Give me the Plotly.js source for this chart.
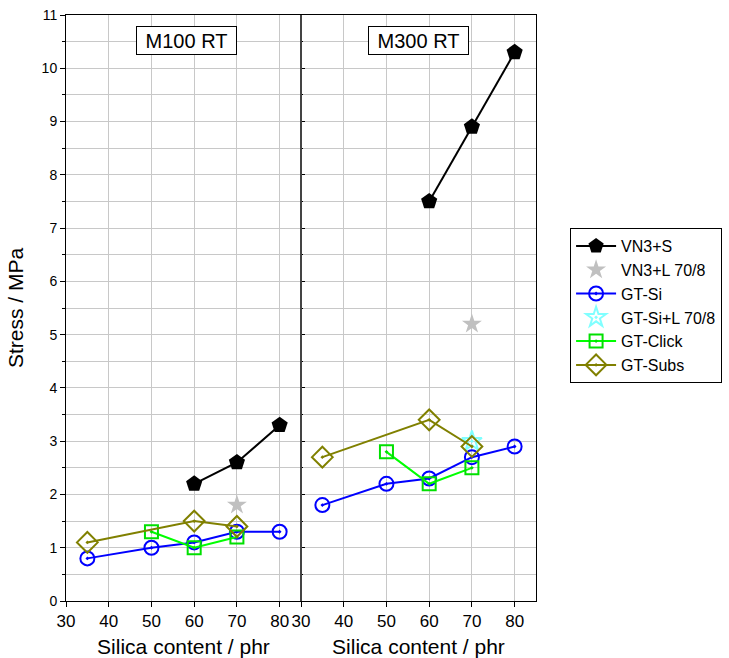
<!DOCTYPE html>
<html>
<head>
<meta charset="utf-8">
<script src="https://cdn.plot.ly/plotly-3.0.1.min.js"></script>
<style>html,body{margin:0;padding:0;background:#fff}#chart{width:729px;height:658px}</style>
</head>
<body>
<div id="chart"></div>
<script>
// M100 RT (left panel)
const vn3sX_100 = [60, 70, 80];
const vn3sY_100 = [2.2, 2.6, 3.3];
const vn3lX_100 = [70];
const vn3lY_100 = [1.8];
const gtSiX_100 = [35, 50, 60, 70, 80];
const gtSiY_100 = [0.8, 1.0, 1.1, 1.3, 1.3];
const gtClickX_100 = [50, 60, 70];
const gtClickY_100 = [1.3, 1.0, 1.2];
const gtSubsX_100 = [35, 60, 70];
const gtSubsY_100 = [1.1, 1.5, 1.4];
// M300 RT (right panel)
const vn3sX_300 = [60, 70, 80];
const vn3sY_300 = [7.5, 8.9, 10.3];
const vn3lX_300 = [70];
const vn3lY_300 = [5.2];
const gtSiX_300 = [35, 50, 60, 70, 80];
const gtSiY_300 = [1.8, 2.2, 2.3, 2.7, 2.9];
const gtSiLX_300 = [70];
const gtSiLY_300 = [3.0];
const gtClickX_300 = [50, 60, 70];
const gtClickY_300 = [2.8, 2.2, 2.5];
const gtSubsX_300 = [35, 60, 70];
const gtSubsY_300 = [2.7, 3.4, 2.9];
const panelTitles = ['M100 RT', 'M300 RT'];

const sty = {
  vn3s: {name:'VN3+S', mode:'lines+markers', line:{color:'#000', width:2}, marker:{symbol:'pentagon', size:17, color:'#000'}},
  vn3l: {name:'VN3+L 70/8', mode:'markers', marker:{symbol:'star', size:15, color:'#c0c0c0'}},
  gtSi: {name:'GT-Si', mode:'lines+markers', line:{color:'#0000ff', width:2}, marker:{symbol:'circle-open-dot', size:14, color:'#0000ff', line:{width:2}}},
  gtSiL:{name:'GT-Si+L 70/8', mode:'markers', marker:{symbol:'star-open-dot', size:15, color:'#80ffff', line:{width:2}}},
  gtClick:{name:'GT-Click', mode:'lines+markers', line:{color:'#00ff00', width:2}, marker:{symbol:'square-open-dot', size:13, color:'#00e000', line:{width:2}}},
  gtSubs:{name:'GT-Subs', mode:'lines+markers', line:{color:'#808000', width:2}, marker:{symbol:'diamond-open-dot', size:16, color:'#808000', line:{width:2}}}
};
function tr(key, x, y, ax, show) {
  const s = JSON.parse(JSON.stringify(sty[key]));
  return Object.assign(s, {x:x, y:y, xaxis:ax[0], yaxis:ax[1], legendgroup:key, showlegend:show});
}
const L = ['x','y'], R = ['x2','y2'];
const data = [
  tr('vn3s', vn3sX_100, vn3sY_100, L, true),
  tr('vn3s', vn3sX_300, vn3sY_300, R, false),
  tr('vn3l', vn3lX_100, vn3lY_100, L, true),
  tr('vn3l', vn3lX_300, vn3lY_300, R, false),
  tr('gtSi', gtSiX_100, gtSiY_100, L, true),
  tr('gtSi', gtSiX_300, gtSiY_300, R, false),
  tr('gtSiL', gtSiLX_300, gtSiLY_300, R, true),
  tr('gtClick', gtClickX_100, gtClickY_100, L, true),
  tr('gtClick', gtClickX_300, gtClickY_300, R, false),
  tr('gtSubs', gtSubsX_100, gtSubsY_100, L, true),
  tr('gtSubs', gtSubsX_300, gtSubsY_300, R, false)
];
const order = ['vn3s','vn3l','gtSi','gtSiL','gtClick','gtSubs'];
data.forEach(d => { d.legendrank = order.indexOf(d.legendgroup) + 1; });

const grid = '#c8c8c8';
const font = {family:'Liberation Sans, Arial, sans-serif', size:14, color:'#000'};
function xax(domain, anchor) {
  return {domain:domain, anchor:anchor, range:[30,85], tick0:30, dtick:10, showgrid:true, gridcolor:grid, gridwidth:1,
    zeroline:false, showline:true, linecolor:'#000', linewidth:1, mirror:true, ticks:'outside', ticklen:5, tickcolor:'#000',
    tickfont:{size:17}, title:{text:'Silica content / phr', font:{size:21}, standoff:12}};
}
const layout = {
  width:729, height:658, font:font, paper_bgcolor:'#fff', plot_bgcolor:'#fff',
  margin:{l:66, r:193, t:15, b:57, autoexpand:false},
  showlegend:true,
  legend:{x:1.0725, xanchor:'left', y:0.6365, yanchor:'top', bordercolor:'#000', borderwidth:1, font:{size:16},
    bgcolor:'#fff', tracegroupgap:0, itemwidth:40},
  xaxis: xax([0,0.5],'y'),
  xaxis2: xax([0.5,1],'y2'),
  yaxis:{range:[0,11], dtick:1, showgrid:true, gridcolor:grid, zeroline:false, showline:true, linecolor:'#000', linewidth:1,
    mirror:true, ticks:'outside', ticklen:5, tickcolor:'#000', tickfont:{size:14},
    minor:{dtick:0.5, showgrid:true, gridcolor:grid, ticks:'outside', ticklen:3, tickcolor:'#000'},
    title:{text:'Stress / MPa', font:{size:21}, standoff:12}},
  yaxis2:{range:[0,11], dtick:1, anchor:'x2', showgrid:true, gridcolor:grid, zeroline:false, showline:true, linecolor:'#000', linewidth:1,
    mirror:true, ticks:'inside', ticklen:4, tickcolor:'#000', showticklabels:false,
    minor:{dtick:0.5, showgrid:true, gridcolor:grid, ticks:'inside', ticklen:2, tickcolor:'#000'}},
  shapes:[{type:'line', xref:'paper', yref:'paper', x0:0.5, x1:0.5, y0:0, y1:1, line:{color:'#444', width:2}}],
  annotations:[
    {text:panelTitles[0], xref:'paper', yref:'paper', x:0.2564, y:0.9561, xanchor:'center', yanchor:'middle', showarrow:false,
     font:{size:20}, width:97, height:25, borderpad:1, bordercolor:'#000', borderwidth:1, bgcolor:'#fff'},
    {text:panelTitles[1], xref:'paper', yref:'paper', x:0.751, y:0.9561, xanchor:'center', yanchor:'middle', showarrow:false,
     font:{size:20}, width:97, height:25, borderpad:1, bordercolor:'#000', borderwidth:1, bgcolor:'#fff'}
  ]
};
Plotly.newPlot('chart', data, layout, {displayModeBar:false, staticPlot:true});
</script>
</body>
</html>
